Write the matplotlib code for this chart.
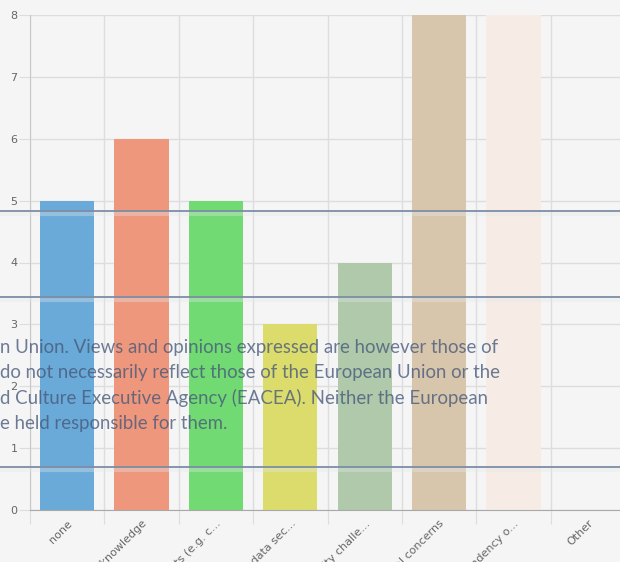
import matplotlib
matplotlib.use("Agg")
import matplotlib.pyplot as plt
from matplotlib.lines import Line2D

# chart data
categories = [
    "none",
    "Lack of knowledge",
    "Costs (e.g. c...",
    "Privacy and data sec...",
    "Interoperability challe...",
    "Ethical and legal concerns",
    "Dependency o...",
    "Other",
]
counts = [5, 6, 5, 3, 4, 8, 8, 0]
bar_colors = ["#6aaad8", "#ee977d", "#72da72", "#dcdc6c",
              "#afc9aa", "#d8c6ac", "#f6ebe5", "#cccccc"]
y_ticks = [0, 1, 2, 3, 4, 5, 6, 7, 8]

# page overlay (disclaimer text bleeding over the chart)
overlay_lines = [
    "n Union. Views and opinions expressed are however those of",
    "do not necessarily reflect those of the European Union or the",
    "d Culture Executive Agency (EACEA). Neither the European",
    "e held responsible for them.",
]

W, H = 620, 562
fig = plt.figure(figsize=(W / 100, H / 100), dpi=100, facecolor="#f5f5f5")
ax = fig.add_axes([30 / W, 1 - 510 / H, 595 / W, (510 - 15) / H])
ax.set_facecolor("#f5f5f5")

x = list(range(len(categories)))
ax.bar(x, counts, width=0.73, color=bar_colors, zorder=2)

ax.set_xlim(-0.5, len(categories) - 0.5)
ax.set_ylim(0, 8)
ax.set_yticks(y_ticks)
ax.set_xticks([i - 0.5 for i in range(len(categories) + 1)], minor=False)
ax.set_xticklabels([])
ax.set_xticks(x, minor=True)
ax.set_xticklabels(categories, minor=True, rotation=45, ha="right",
                   rotation_mode="anchor", fontsize=8, color="#666666")
ax.tick_params(axis="x", which="minor", length=0, pad=6)
ax.tick_params(axis="x", which="major", length=10, color="#dddddd")
ax.tick_params(axis="y", length=8, color="#dddddd", labelsize=8,
               labelcolor="#666666", pad=1)
ax.grid(True, which="major", color="#dddddd", lw=1, zorder=0)
for s in ["top", "right"]:
    ax.spines[s].set_visible(False)
ax.spines["left"].set_color("#c8c8c8")
ax.spines["bottom"].set_color("#a8a8a8")

# horizontal rules of the overlapping page
for yp in [211, 297, 467]:
    fig.add_artist(Line2D([0, 1], [1 - (yp + 2.5) / H] * 2, color="#e4e8ee",
                          lw=3, alpha=0.35, transform=fig.transFigure, zorder=5))
    fig.add_artist(Line2D([0, 1], [1 - yp / H] * 2, color="#7d8ea5",
                          lw=1.3, transform=fig.transFigure, zorder=6))

baselines = [353, 378, 404, 429]
for line, yb in zip(overlay_lines, baselines):
    fig.text(0.5 / W, 1 - yb / H, line, fontsize=13.4, family="Lato",
             color="#46587a", alpha=0.78, va="baseline", ha="left", zorder=7)

fig.savefig("out.png", dpi=100, facecolor=fig.get_facecolor())
